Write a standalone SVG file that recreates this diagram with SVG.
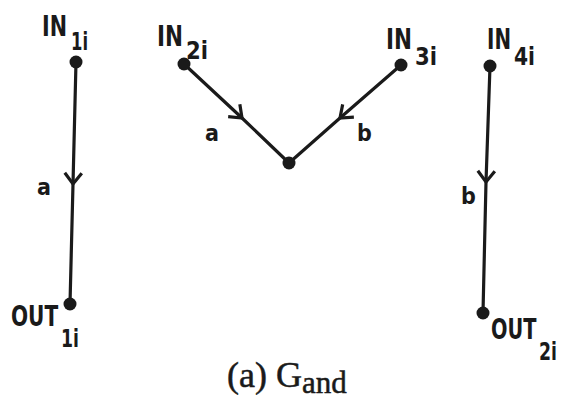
<svg xmlns="http://www.w3.org/2000/svg" width="566" height="410" viewBox="0 0 566 410">
  <style>
    .lbl { font-family: "DejaVu Sans Condensed", "Liberation Sans", sans-serif; font-weight: bold; fill: #1a1a1a; }
    .big { font-size: 28px; }
    .sub { font-size: 24px; }
    .ab { font-size: 23px; }
    .edge { fill: none; stroke: #1a1a1a; stroke-width: 3.2; stroke-linecap: round; }
    .dot { fill: #1a1a1a; }
    .cap { font-family: "Liberation Serif", "Times New Roman", serif; fill: #1a1a1a; stroke: #1a1a1a; stroke-width: 0.5; }
  </style>
  <defs>
    <marker id="chev" markerUnits="userSpaceOnUse" markerWidth="30" markerHeight="30" refX="15" refY="15" orient="auto" viewBox="0 0 30 30">
      <path d="M4,6.5 L15,15 L4,23.5" fill="none" stroke="#1a1a1a" stroke-width="3.2" stroke-linejoin="miter"/>
    </marker>
  </defs>
  <rect width="566" height="410" fill="#ffffff"/>
  <g id="connectors">
    <path class="edge" d="M76,62 L73,184 L70,304" marker-mid="url(#chev)"/>
    <path class="edge" d="M184,64 L242,118 L289,163" marker-mid="url(#chev)"/>
    <path class="edge" d="M401,65 L340,118 L289,163" marker-mid="url(#chev)"/>
    <path class="edge" d="M490,66 L486,182 L483,313" marker-mid="url(#chev)"/>
    <text class="lbl ab" x="37" y="195">a</text>
    <text class="lbl ab" x="205" y="141">a</text>
    <text class="lbl ab" x="357" y="141">b</text>
    <text class="lbl ab" x="461" y="204">b</text>
  </g>
  <g id="IN1i">
    <circle class="dot" cx="76" cy="62" r="6.5"/>
    <text class="lbl big" x="42" y="36" textLength="25" lengthAdjust="spacingAndGlyphs">IN</text>
    <text class="lbl sub" x="71" y="50" textLength="17" lengthAdjust="spacingAndGlyphs">1i</text>
  </g>
  <g id="IN2i">
    <circle class="dot" cx="184" cy="64" r="6.5"/>
    <text class="lbl big" x="157" y="46" textLength="26" lengthAdjust="spacingAndGlyphs">IN</text>
    <text class="lbl sub" x="186" y="59" textLength="22" lengthAdjust="spacingAndGlyphs">2i</text>
  </g>
  <g id="center">
    <circle class="dot" cx="289" cy="163" r="6.5"/>
  </g>
  <g id="IN3i">
    <circle class="dot" cx="401" cy="65" r="6.5"/>
    <text class="lbl big" x="386" y="49" textLength="26" lengthAdjust="spacingAndGlyphs">IN</text>
    <text class="lbl sub" x="415" y="65" textLength="22" lengthAdjust="spacingAndGlyphs">3i</text>
  </g>
  <g id="IN4i">
    <circle class="dot" cx="490" cy="66" r="6.5"/>
    <text class="lbl big" x="487" y="49" textLength="24" lengthAdjust="spacingAndGlyphs">IN</text>
    <text class="lbl sub" x="514" y="65" textLength="21" lengthAdjust="spacingAndGlyphs">4i</text>
  </g>
  <g id="OUT1i">
    <circle class="dot" cx="70" cy="304" r="6.5"/>
    <text class="lbl big" transform="translate(11,326) scale(0.8,1)">OUT</text>
    <text class="lbl sub" transform="translate(61,347) scale(0.8,1)">1i</text>
  </g>
  <g id="OUT2i">
    <circle class="dot" cx="483" cy="313" r="6.5"/>
    <text class="lbl big" transform="translate(491,339) scale(0.77,1)">OUT</text>
    <text class="lbl sub" transform="translate(539,360) scale(0.8,1)">2i</text>
  </g>
  <g id="caption">
    <text class="cap" x="227" y="387" font-size="36">(a) G<tspan font-size="31" dy="6">and</tspan></text>
  </g>
</svg>
